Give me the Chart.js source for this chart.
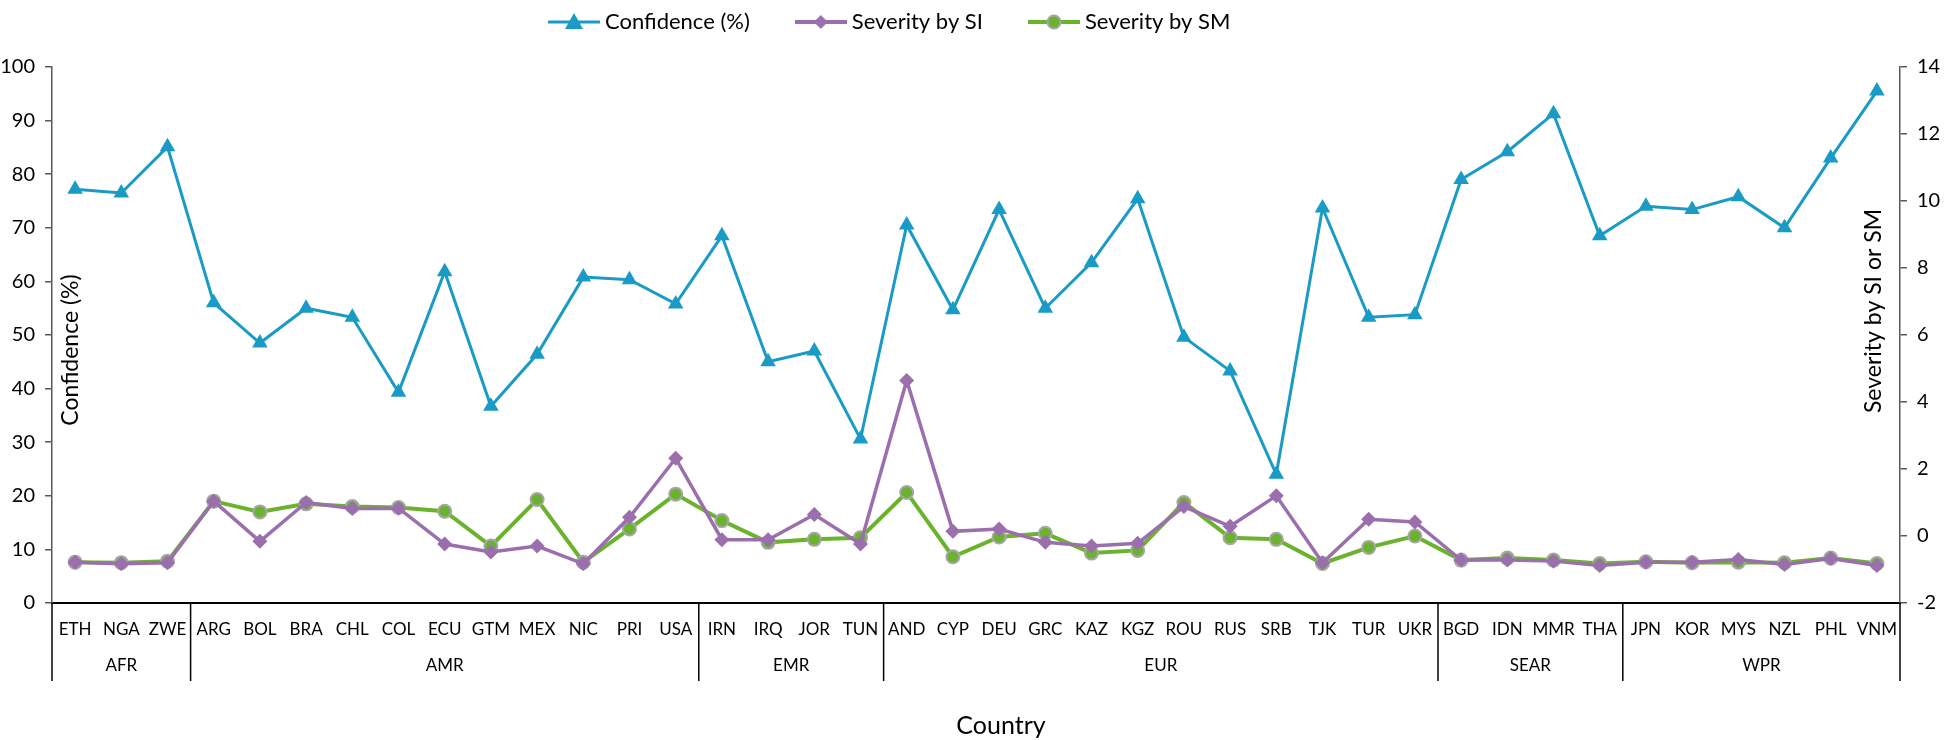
<!DOCTYPE html>
<html>
<head>
<meta charset="utf-8">
<script src="https://cdn.jsdelivr.net/npm/chart.js@4.4.1/dist/chart.umd.min.js"></script>
<style>
  html, body { margin: 0; padding: 0; background: #fff; }
  #wrap { width: 1952px; height: 740px; }
</style>
</head>
<body>
<div id="wrap"><canvas id="chart"></canvas></div>
<script>
// country codes, grouped by WHO region
const countries = ['ETH', 'NGA', 'ZWE',
  'ARG', 'BOL', 'BRA', 'CHL', 'COL', 'ECU', 'GTM', 'MEX', 'NIC', 'PRI', 'USA',
  'IRN', 'IRQ', 'JOR', 'TUN',
  'AND', 'CYP', 'DEU', 'GRC', 'KAZ', 'KGZ', 'ROU', 'RUS', 'SRB', 'TJK', 'TUR', 'UKR',
  'BGD', 'IDN', 'MMR', 'THA',
  'JPN', 'KOR', 'MYS', 'NZL', 'PHL', 'VNM'];
const regionNames = ['AFR', 'AMR', 'EMR', 'EUR', 'SEAR', 'WPR'];
const regionSizes = [3, 11, 4, 12, 4, 6];

const confidence = [77.2, 76.5, 85.1,
  56, 48.5, 55, 53.3, 39.3, 61.8, 36.7, 46.4, 60.8, 60.3, 55.8,
  68.5, 45, 47, 30.6,
  70.5, 54.7, 73.4, 55, 63.5, 75.4, 49.6, 43.3, 24, 73.7, 53.3, 53.8,
  79, 84.2, 91.3, 68.5,
  74, 73.4, 75.8, 70, 83, 95.5];
const severitySI = [-0.78, -0.83, -0.8,
  1.04, -0.16, 1.0, 0.82, 0.83, -0.24, -0.48, -0.3, -0.83, 0.56, 2.32,
  -0.11, -0.11, 0.64, -0.24,
  4.64, 0.14, 0.21, -0.19, -0.3, -0.22, 0.88, 0.29, 1.2, -0.8, 0.5, 0.42,
  -0.72, -0.72, -0.75, -0.88,
  -0.78, -0.78, -0.7, -0.85, -0.67, -0.88];
const severitySM = [-0.78, -0.8, -0.75,
  1.04, 0.72, 0.96, 0.88, 0.85, 0.74, -0.3, 1.09, -0.78, 0.21, 1.25,
  0.46, -0.19, -0.1, -0.05,
  1.3, -0.62, -0.03, 0.08, -0.51, -0.43, 1.0, -0.05, -0.1, -0.82, -0.34, 0.0,
  -0.72, -0.66, -0.72, -0.82,
  -0.77, -0.8, -0.78, -0.8, -0.66, -0.82];

const leftTicks = { min: 0, max: 100, step: 10 };
const rightTicks = { min: -2, max: 14, step: 2 };

const FONT = 'Lato, "Open Sans", sans-serif';
const BLUE = '#1a9bc6';
const PURPLE = '#9b6fae';
const GREEN = '#6bb32e';
const AXIS = '#595959';

// small canvas used as legend symbol: line with the marker on it
function legendIcon(color, width, style, fill, border) {
  const c = document.createElement('canvas');
  c.width = 52; c.height = 22;
  const g = c.getContext('2d');
  g.strokeStyle = color;
  g.lineWidth = width;
  g.beginPath(); g.moveTo(0, 11); g.lineTo(52, 11); g.stroke();
  g.fillStyle = fill;
  g.beginPath();
  if (style === 'triangle') {
    g.moveTo(26, 2); g.lineTo(35, 18); g.lineTo(17, 18); g.closePath(); g.fill();
  } else if (style === 'diamond') {
    g.moveTo(26, 4); g.lineTo(33, 11); g.lineTo(26, 18); g.lineTo(19, 11); g.closePath(); g.fill();
  } else {
    g.arc(26, 11, 6.5, 0, Math.PI * 2); g.fill();
    g.lineWidth = 2; g.strokeStyle = border; g.stroke();
  }
  return c;
}

const legendItems = [
  { text: 'Confidence (%)', icon: legendIcon(BLUE, 3, 'triangle', BLUE) },
  { text: 'Severity by SI', icon: legendIcon(PURPLE, 4, 'diamond', PURPLE) },
  { text: 'Severity by SM', icon: legendIcon(GREEN, 4, 'circle', GREEN, '#a6a6a6') }
];

const decorations = {
  id: 'decorations',
  afterDraw(chart) {
    const ctx = chart.ctx;
    const area = chart.chartArea;
    const x = chart.scales.x;
    ctx.save();

    // region separators and labels under the category axis
    ctx.strokeStyle = '#000';
    ctx.lineWidth = 1.5;
    ctx.fillStyle = '#000';
    ctx.font = '17px ' + FONT;
    ctx.textAlign = 'center';
    ctx.textBaseline = 'middle';
    let start = 0;
    const cuts = [area.left];
    regionSizes.forEach((n, i) => {
      const first = x.getPixelForValue(start);
      const last = x.getPixelForValue(start + n - 1);
      ctx.fillText(regionNames[i], (first + last) / 2, 666);
      start += n;
      if (start < countries.length) {
        cuts.push((last + x.getPixelForValue(start)) / 2);
      }
    });
    cuts.push(area.right);
    cuts.forEach(px => {
      ctx.beginPath(); ctx.moveTo(px, area.bottom); ctx.lineTo(px, 681); ctx.stroke();
    });

    // axis titles
    ctx.font = '25px ' + FONT;
    ctx.fillText('Country', (area.left + area.right) / 2 + 25, 726);
    ctx.font = '23px ' + FONT;
    ctx.save();
    ctx.translate(area.left + 19, 350);
    ctx.rotate(-Math.PI / 2);
    ctx.fillText('Confidence (%)', 0, 0);
    ctx.restore();
    ctx.save();
    ctx.translate(area.right - 26, 311);
    ctx.rotate(-Math.PI / 2);
    ctx.fillText('Severity by SI or SM', 0, 0);
    ctx.restore();

    // legend
    ctx.font = '22px ' + FONT;
    ctx.textAlign = 'left';
    let lx = 548;
    legendItems.forEach(item => {
      ctx.drawImage(item.icon, lx, 11);
      lx += 57;
      ctx.fillText(item.text, lx, 22);
      lx += ctx.measureText(item.text).width + 45;
    });
    ctx.restore();
  }
};

new Chart(document.getElementById('chart'), {
  type: 'line',
  data: {
    labels: countries,
    datasets: [{
      label: 'Confidence (%)',
      data: confidence,
      yAxisID: 'y',
      borderColor: BLUE,
      backgroundColor: BLUE,
      borderWidth: 3,
      pointStyle: 'triangle',
      pointRadius: 9,
      pointBorderWidth: 0,
      tension: 0
    }, {
      label: 'Severity by SI',
      data: severitySI,
      yAxisID: 'y1',
      borderColor: PURPLE,
      backgroundColor: PURPLE,
      borderWidth: 3.5,
      pointStyle: 'rectRot',
      pointRadius: 7.5,
      pointBorderWidth: 0,
      tension: 0
    }, {
      label: 'Severity by SM',
      data: severitySM,
      yAxisID: 'y1',
      borderColor: GREEN,
      backgroundColor: GREEN,
      borderWidth: 4,
      pointStyle: 'circle',
      pointRadius: 6.5,
      pointBorderWidth: 2,
      pointBorderColor: '#a6a6a6',
      tension: 0
    }]
  },
  options: {
    responsive: true,
    maintainAspectRatio: false,
    animation: false,
    layout: { padding: { top: 67, left: 0, right: 0, bottom: 0 } },
    plugins: {
      legend: { display: false },
      tooltip: { enabled: false }
    },
    scales: {
      x: {
        offset: true,
        grid: { display: false, drawTicks: false },
        border: { display: true, color: '#000', width: 2 },
        ticks: { color: '#000', font: { family: FONT, size: 17 }, padding: 16, maxRotation: 0, autoSkip: false },
        afterFit(s) { s.height = 137; }
      },
      y: {
        position: 'left',
        min: leftTicks.min,
        max: leftTicks.max,
        ticks: { stepSize: leftTicks.step, color: '#000', font: { family: FONT, size: 20 }, padding: 10 },
        grid: { drawOnChartArea: false, drawTicks: true, tickLength: 7, color: AXIS, lineWidth: 1.5 },
        border: { color: AXIS, width: 1.5 },
        afterFit(s) { s.width = 52; }
      },
      y1: {
        position: 'right',
        min: rightTicks.min,
        max: rightTicks.max,
        ticks: { stepSize: rightTicks.step, color: '#000', font: { family: FONT, size: 20 }, padding: 10 },
        grid: { drawOnChartArea: false, drawTicks: true, tickLength: 7, color: AXIS, lineWidth: 1.5 },
        border: { color: AXIS, width: 1.5 },
        afterFit(s) { s.width = 52; }
      }
    }
  },
  plugins: [decorations]
});
</script>
</body>
</html>
